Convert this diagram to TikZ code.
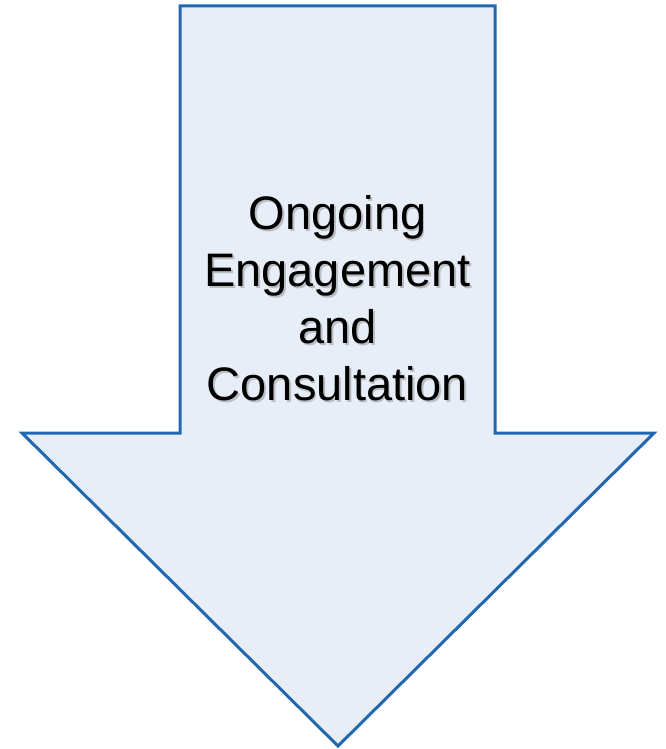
\documentclass[tikz,border=0pt]{standalone}
\usepackage{fontspec}
\setmainfont{Liberation Sans}
\definecolor{arrowfill}{RGB}{231,238,247}
\definecolor{arrowline}{RGB}{34,104,176}
\definecolor{shadowgray}{RGB}{150,150,150}
\tikzset{
  bigarrow/.style={fill=arrowfill, draw=arrowline, line width=3pt, line join=miter},
  label text/.style={align=center, font=\fontsize{47}{57}\selectfont, inner sep=0pt}
}
\begin{document}
\begin{tikzpicture}[x=1pt,y=1pt]
\useasboundingbox (0,0) rectangle (666,-749);
\coordinate (s1) at (180,-6);
\coordinate (s2) at (495,-6);
\coordinate (s3) at (495,-433);
\coordinate (h1) at (654,-433);
\coordinate (tip) at (338,-746);
\coordinate (h2) at (22,-433);
\coordinate (s4) at (180,-433);
\draw[bigarrow] (s1) -- (s2) -- (s3) -- (h1) -- (tip) -- (h2) -- (s4) -- cycle;
\node[label text, text=shadowgray, opacity=0.55] (shadow) at (339.3,-300) {Ongoing\\Engagement\\and\\Consultation};
\node[label text, text=black] (label) at (337.5,-298.5) {Ongoing\\Engagement\\and\\Consultation};
\end{tikzpicture}
\end{document}
